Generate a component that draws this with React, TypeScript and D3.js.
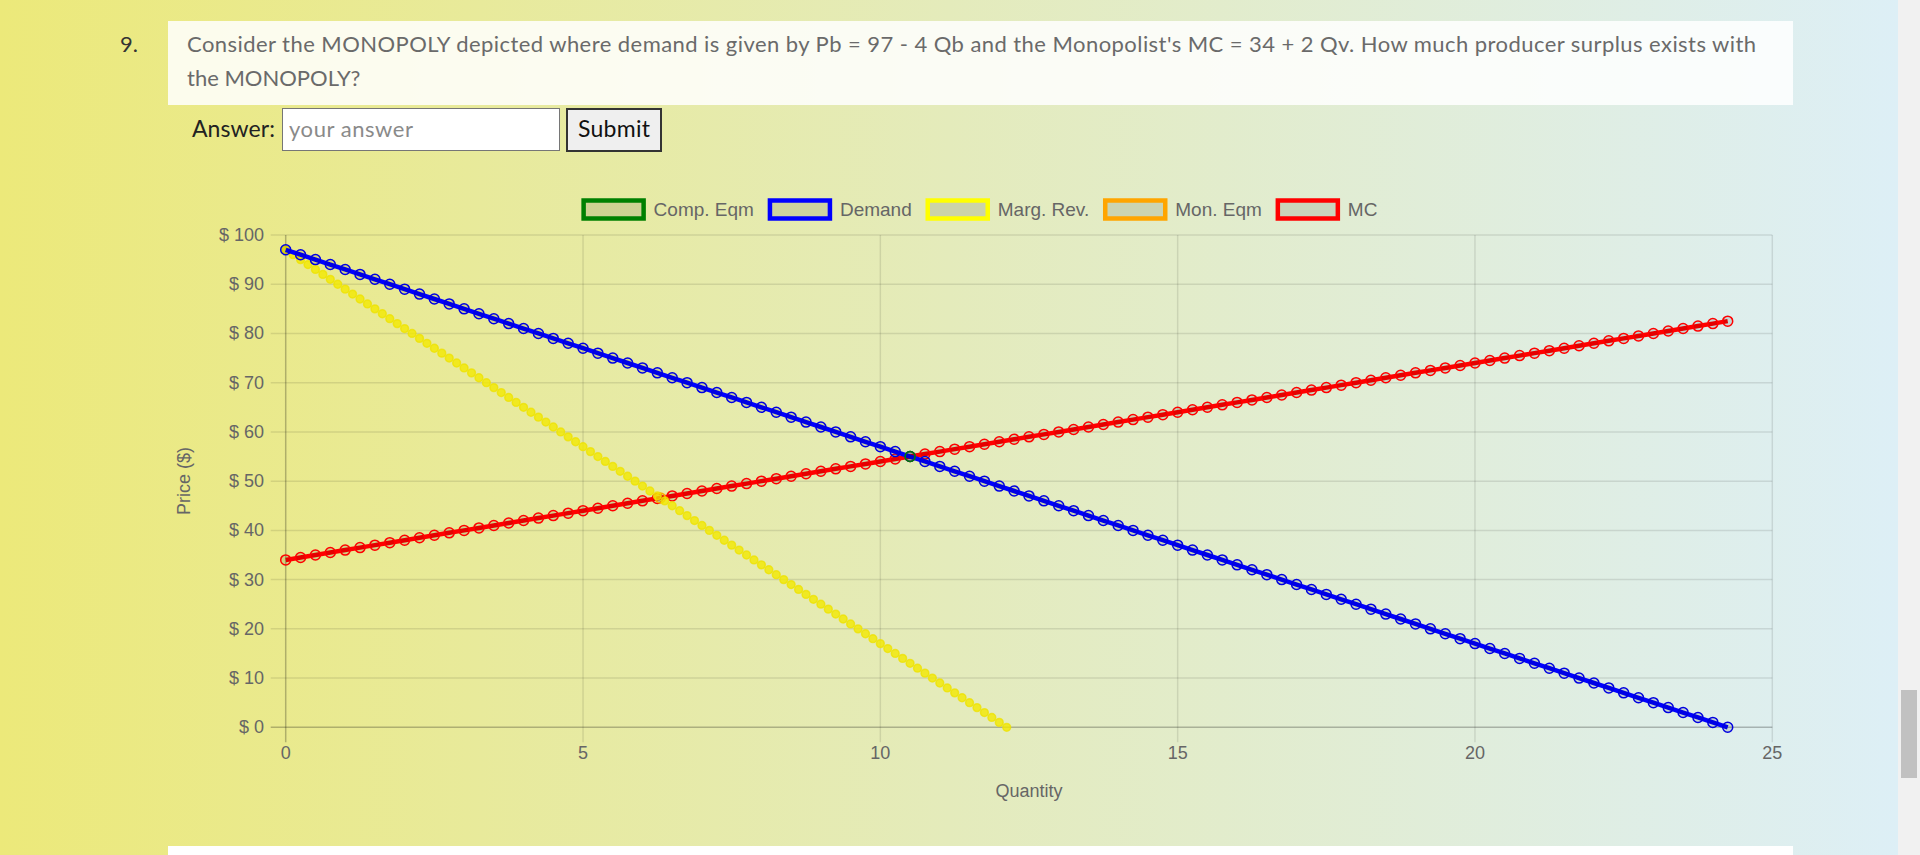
import React, { useMemo } from 'react';
import * as d3 from 'd3';

// quantities sampled by the chart (0.25 step for demand and MC)
const QTY = [0, 0.25, 0.5, 0.75, 1, 1.25, 1.5, 1.75, 2, 2.25, 2.5, 2.75, 3, 3.25, 3.5, 3.75, 4, 4.25, 4.5, 4.75, 5, 5.25, 5.5, 5.75, 6, 6.25, 6.5, 6.75, 7, 7.25, 7.5, 7.75, 8, 8.25, 8.5, 8.75, 9, 9.25, 9.5, 9.75, 10, 10.25, 10.5, 10.75, 11, 11.25, 11.5, 11.75, 12, 12.25, 12.5, 12.75, 13, 13.25, 13.5, 13.75, 14, 14.25, 14.5, 14.75, 15, 15.25, 15.5, 15.75, 16, 16.25, 16.5, 16.75, 17, 17.25, 17.5, 17.75, 18, 18.25, 18.5, 18.75, 19, 19.25, 19.5, 19.75, 20, 20.25, 20.5, 20.75, 21, 21.25, 21.5, 21.75, 22, 22.25, 22.5, 22.75, 23, 23.25, 23.5, 23.75, 24, 24.25];

const DEMAND_P = [97, 96, 95, 94, 93, 92, 91, 90, 89, 88, 87, 86, 85, 84, 83, 82, 81, 80, 79, 78, 77, 76, 75, 74, 73, 72, 71, 70, 69, 68, 67, 66, 65, 64, 63, 62, 61, 60, 59, 58, 57, 56, 55, 54, 53, 52, 51, 50, 49, 48, 47, 46, 45, 44, 43, 42, 41, 40, 39, 38, 37, 36, 35, 34, 33, 32, 31, 30, 29, 28, 27, 26, 25, 24, 23, 22, 21, 20, 19, 18, 17, 16, 15, 14, 13, 12, 11, 10, 9, 8, 7, 6, 5, 4, 3, 2, 1, 0];

const MC_P = [34, 34.5, 35, 35.5, 36, 36.5, 37, 37.5, 38, 38.5, 39, 39.5, 40, 40.5, 41, 41.5, 42, 42.5, 43, 43.5, 44, 44.5, 45, 45.5, 46, 46.5, 47, 47.5, 48, 48.5, 49, 49.5, 50, 50.5, 51, 51.5, 52, 52.5, 53, 53.5, 54, 54.5, 55, 55.5, 56, 56.5, 57, 57.5, 58, 58.5, 59, 59.5, 60, 60.5, 61, 61.5, 62, 62.5, 63, 63.5, 64, 64.5, 65, 65.5, 66, 66.5, 67, 67.5, 68, 68.5, 69, 69.5, 70, 70.5, 71, 71.5, 72, 72.5, 73, 73.5, 74, 74.5, 75, 75.5, 76, 76.5, 77, 77.5, 78, 78.5, 79, 79.5, 80, 80.5, 81, 81.5, 82, 82.5];

// marginal revenue is sampled at half the step
const MR_Q = [0, 0.125, 0.25, 0.375, 0.5, 0.625, 0.75, 0.875, 1, 1.125, 1.25, 1.375, 1.5, 1.625, 1.75, 1.875, 2, 2.125, 2.25, 2.375, 2.5, 2.625, 2.75, 2.875, 3, 3.125, 3.25, 3.375, 3.5, 3.625, 3.75, 3.875, 4, 4.125, 4.25, 4.375, 4.5, 4.625, 4.75, 4.875, 5, 5.125, 5.25, 5.375, 5.5, 5.625, 5.75, 5.875, 6, 6.125, 6.25, 6.375, 6.5, 6.625, 6.75, 6.875, 7, 7.125, 7.25, 7.375, 7.5, 7.625, 7.75, 7.875, 8, 8.125, 8.25, 8.375, 8.5, 8.625, 8.75, 8.875, 9, 9.125, 9.25, 9.375, 9.5, 9.625, 9.75, 9.875, 10, 10.125, 10.25, 10.375, 10.5, 10.625, 10.75, 10.875, 11, 11.125, 11.25, 11.375, 11.5, 11.625, 11.75, 11.875, 12, 12.125];

const MR_P = [97, 96, 95, 94, 93, 92, 91, 90, 89, 88, 87, 86, 85, 84, 83, 82, 81, 80, 79, 78, 77, 76, 75, 74, 73, 72, 71, 70, 69, 68, 67, 66, 65, 64, 63, 62, 61, 60, 59, 58, 57, 56, 55, 54, 53, 52, 51, 50, 49, 48, 47, 46, 45, 44, 43, 42, 41, 40, 39, 38, 37, 36, 35, 34, 33, 32, 31, 30, 29, 28, 27, 26, 25, 24, 23, 22, 21, 20, 19, 18, 17, 16, 15, 14, 13, 12, 11, 10, 9, 8, 7, 6, 5, 4, 3, 2, 1, 0];

const COMP_EQM_Q = [10.5];
const COMP_EQM_P = [55];
const MON_EQM_Q = [6.3];
const MON_EQM_P = [46.6];

const LEGEND_LABELS = ['Comp. Eqm', 'Demand', 'Marg. Rev.', 'Mon. Eqm', 'MC'];

const QUESTION_LINES = [
  "Consider the MONOPOLY depicted where demand is given by Pb = 97 - 4 Qb and the Monopolist's MC = 34 + 2 Qv. How much producer surplus exists with",
  'the MONOPOLY?',
];

const W = 1920;
const H = 855;
const CHART_FONT = "'Liberation Sans', Arial, Helvetica, sans-serif";
const PAGE_FONT = "Lato, 'Open Sans', sans-serif";
const GREY = '#666';
const LEGEND_FS = 19;

const zip = (xs: number[], ys: number[]) => xs.map((x, i) => [x, ys[i]] as [number, number]);

const measure = (s: string, font: string) => {
  const ctx = document.createElement('canvas').getContext('2d');
  if (!ctx) return s.length * 9;
  ctx.font = font;
  return ctx.measureText(s).width;
};

export default function App() {
  const x = d3.scaleLinear().domain([0, 25]).range([285.7, 1772.3]);
  const y = d3.scaleLinear().domain([0, 100]).range([727.3, 235]);
  const line = d3.line<[number, number]>().x(d => x(d[0])).y(d => y(d[1]));

  // drawn bottom-up: the first dataset ends on top, like chart.js
  const datasets = [
    { label: 'MC', color: 'red', data: zip(QTY, MC_P), showLine: true, r: 5, fill: 'rgba(0,0,0,0.1)', stroke: 'red' },
    { label: 'Mon. Eqm', color: 'orange', data: zip(MON_EQM_Q, MON_EQM_P), showLine: false, r: 5, fill: 'rgba(0,0,0,0.1)', stroke: 'orange' },
    { label: 'Marg. Rev.', color: 'yellow', data: zip(MR_Q, MR_P), showLine: false, r: 3.9, fill: 'rgba(242,232,0,0.8)', stroke: 'rgba(238,226,0,0.75)' },
    { label: 'Demand', color: 'blue', data: zip(QTY, DEMAND_P), showLine: true, r: 5, fill: 'rgba(0,0,0,0.1)', stroke: '#0000e0' },
    { label: 'Comp. Eqm', color: 'green', data: zip(COMP_EQM_Q, COMP_EQM_P), showLine: false, r: 5, fill: 'rgba(0,0,0,0.1)', stroke: 'green' },
  ];
  const colorOf = (l: string) => datasets.find(d => d.label === l)!.color;

  // legend layout (chart.js v2 style, scaled 1.5x)
  const legend = useMemo(() => {
    const boxW = 60, pad = 16;
    const items = LEGEND_LABELS.map(l => ({ label: l, w: boxW + 10 + measure(l, `${LEGEND_FS}px ${CHART_FONT}`) }));
    const total = d3.sum(items, d => d.w) + pad * (items.length - 1);
    let cx = 980.5 - total / 2;
    return items.map(it => {
      const out = { ...it, x: cx };
      cx += it.w + pad;
      return out;
    });
  }, []);

  const xTicks = x.ticks(5);
  const yTicks = y.ticks(10);
  const [x0, x1] = x.range();
  const [y0, y1] = y.range();

  return (
    <svg width={W} height={H} style={{ position: 'fixed', left: 0, top: 0 }}>
      <defs>
        <linearGradient id="bg" x1="0" x2="1" y1="0" y2="0">
          <stop offset="0%" stopColor="#ece97a" />
          <stop offset="50%" stopColor="#e4ebbb" />
          <stop offset="100%" stopColor="#ddeff6" />
        </linearGradient>
      </defs>
      <rect x={0} y={0} width={1898} height={H} fill="url(#bg)" />
      <rect x={1898} y={0} width={22} height={H} fill="#f1f1f1" />
      <rect x={1901} y={690} width={16} height={88} fill="#c1c1c1" />

      {/* question card */}
      <rect x={168} y={21} width={1625} height={84} fill="rgba(255,255,255,0.85)" />
      <text x={120} y={52} fontFamily={PAGE_FONT} fontSize={22} fill="#333">9.</text>
      {QUESTION_LINES.map((t, i) => (
        <text key={i} x={187} y={52 + i * 34} fontFamily={PAGE_FONT} fontSize={22} fill="#6a6a6a"
          textLength={i === 0 ? 1569 : undefined} lengthAdjust="spacing">{t}</text>
      ))}

      {/* answer form */}
      <text x={192} y={137} fontFamily={PAGE_FONT} fontSize={23} fill="#222" textLength={83} lengthAdjust="spacing">Answer:</text>
      <rect x={282.5} y={108.5} width={277} height={42} fill="#fff" stroke="#767676" strokeWidth={1} />
      <text x={289} y={137} fontFamily={PAGE_FONT} fontSize={22} fill="#8a8a8a" textLength={124} lengthAdjust="spacing">your answer</text>
      <rect x={567} y={109} width={94} height={42} fill="#efefef" stroke="#333" strokeWidth={2} />
      <text x={614} y={137} textAnchor="middle" fontFamily={PAGE_FONT} fontSize={23} fill="#111" textLength={72} lengthAdjust="spacing">Submit</text>

      {/* legend */}
      {legend.map(it => (
        <g key={it.label}>
          <rect x={it.x} y={200.5} width={60} height={18} fill="rgba(0,0,0,0.1)" stroke={colorOf(it.label)} strokeWidth={4.5} />
          <text x={it.x + 70} y={209} dominantBaseline="central" fontFamily={CHART_FONT} fontSize={LEGEND_FS} fill={GREY}>{it.label}</text>
        </g>
      ))}

      {/* grid */}
      {yTicks.map(t => (
        <line key={'gy' + t} x1={x0 - 15} x2={x1} y1={y(t)} y2={y(t)}
          stroke={t === 0 ? 'rgba(0,0,0,0.25)' : 'rgba(0,0,0,0.1)'} strokeWidth={1.5} />
      ))}
      {xTicks.map(t => (
        <line key={'gx' + t} x1={x(t)} x2={x(t)} y1={y1} y2={y0 + 15}
          stroke={t === 0 ? 'rgba(0,0,0,0.25)' : 'rgba(0,0,0,0.1)'} strokeWidth={1.5} />
      ))}
      {yTicks.map(t => (
        <text key={'ly' + t} x={264} y={y(t)} dominantBaseline="central" textAnchor="end"
          fontFamily={CHART_FONT} fontSize={18} fill={GREY}>{`$ ${t}`}</text>
      ))}
      {xTicks.map(t => (
        <text key={'lx' + t} x={x(t)} y={753} dominantBaseline="central" textAnchor="middle"
          fontFamily={CHART_FONT} fontSize={18} fill={GREY}>{t}</text>
      ))}
      <text x={1029} y={791} dominantBaseline="central" textAnchor="middle" fontFamily={CHART_FONT} fontSize={18} fill={GREY}>Quantity</text>
      <text transform="translate(184,481) rotate(-90)" dominantBaseline="central" textAnchor="middle"
        fontFamily={CHART_FONT} fontSize={18} fill={GREY}>Price ($)</text>

      {/* series */}
      {datasets.map(ds => (
        <g key={ds.label}>
          {ds.showLine && (
            <path d={line(ds.data) || ''} fill="none" stroke={ds.color} strokeWidth={4.5} strokeLinejoin="round" />
          )}
          {ds.data.map((d, i) => (
            <circle key={i} cx={x(d[0])} cy={y(d[1])} r={ds.r} fill={ds.fill}
              stroke={ds.stroke} strokeWidth={1.5} />
          ))}
        </g>
      ))}

      <rect x={168} y={846} width={1625} height={9} fill="#fff" />
    </svg>
  );
}
